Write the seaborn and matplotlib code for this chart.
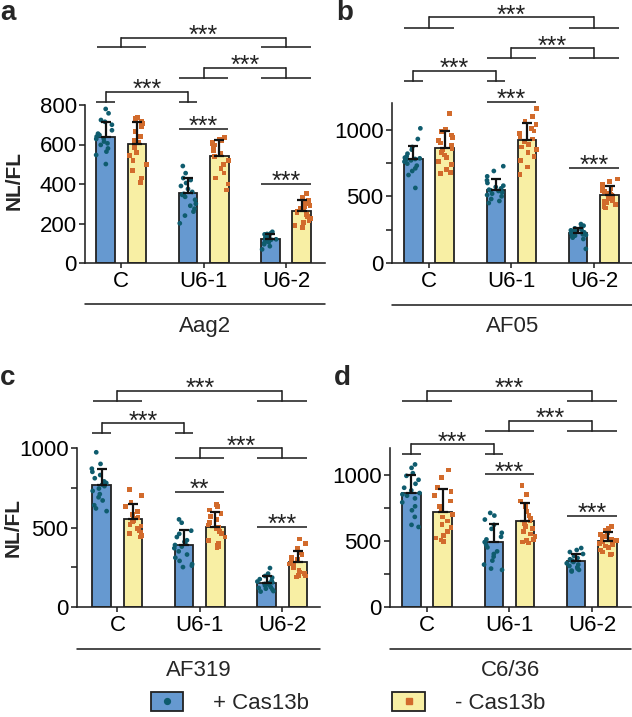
import numpy as np
import pandas as pd
import matplotlib
matplotlib.use("Agg")
import matplotlib.pyplot as plt
from matplotlib.patches import Patch
from matplotlib.lines import Line2D
from matplotlib.ticker import MultipleLocator
from matplotlib.transforms import blended_transform_factory
import seaborn as sns

sns.set_style("ticks")
plt.rcParams["font.family"] = ["Liberation Sans", "DejaVu Sans"]

# ---------------- data ----------------
categories = ["C", "U6-1", "U6-2"]
conditions = ["+ Cas13b", "- Cas13b"]
cell_lines = ["Aag2", "AF05", "AF319", "C6/36"]
panel_letters = ["a", "b", "c", "d"]

# bar means and SDs (per category C, U6-1, U6-2)
aag2_mean_plus = [636, 353, 120]
aag2_sd_plus = [80, 76, 28]
aag2_mean_minus = [601, 543, 265]
aag2_sd_minus = [111, 80, 54]

af05_mean_plus = [777, 550, 224]
af05_sd_plus = [100, 81, 38]
af05_mean_minus = [860, 922, 513]
af05_sd_minus = [130, 126, 62]

af319_mean_plus = [766, 392, 150]
af319_sd_plus = [105, 91, 46]
af319_mean_minus = [555, 504, 281]
af319_sd_minus = [91, 93, 73]

c636_mean_plus = [862, 490, 349]
c636_sd_plus = [138, 137, 53]
c636_mean_minus = [715, 652, 500]
c636_sd_minus = [172, 134, 63]

# individual points
aag2_c_plus = [780, 758, 724, 715, 700, 672, 655, 648, 640, 630, 628, 615, 606, 598, 580, 564, 547, 501]
aag2_c_minus = [738, 730, 715, 705, 700, 690, 665, 640, 620, 610, 585, 560, 545, 520, 500, 470, 430, 408]
aag2_u1_plus = [491, 455, 430, 420, 405, 390, 375, 360, 350, 345, 335, 320, 300, 290, 275, 260, 240, 201]
aag2_u1_minus = [635, 628, 620, 612, 605, 598, 590, 580, 570, 555, 540, 520, 500, 480, 455, 430, 400, 370]
aag2_u2_plus = [158, 150, 147, 145, 140, 135, 130, 125, 122, 120, 118, 115, 110, 105, 100, 95, 85, 69]
aag2_u2_minus = [353, 330, 315, 305, 300, 290, 285, 275, 270, 262, 255, 245, 235, 225, 215, 205, 190, 181]

af05_c_plus = [1010, 930, 870, 850, 820, 800, 790, 785, 780, 775, 770, 760, 745, 730, 710, 690, 660, 563]
af05_c_minus = [1123, 1000, 985, 960, 940, 920, 900, 880, 860, 850, 830, 810, 790, 760, 740, 700, 680, 669]
af05_u1_plus = [726, 690, 650, 620, 600, 580, 570, 560, 550, 545, 540, 530, 520, 510, 500, 480, 465, 450]
af05_u1_minus = [1161, 1100, 1060, 1040, 1010, 990, 970, 950, 930, 910, 890, 870, 850, 830, 800, 770, 720, 663]
af05_u2_plus = [292, 280, 270, 260, 250, 245, 240, 235, 230, 225, 220, 215, 210, 205, 200, 190, 180, 106]
af05_u2_minus = [631, 610, 590, 575, 560, 545, 535, 525, 515, 505, 495, 485, 470, 460, 450, 440, 425, 412]

af319_c_plus = [973, 900, 870, 850, 830, 810, 790, 780, 770, 760, 745, 730, 710, 690, 670, 640, 620, 603]
af319_c_minus = [741, 700, 660, 630, 600, 580, 565, 555, 545, 535, 520, 510, 495, 480, 470, 460, 450, 441]
af319_u1_plus = [551, 530, 480, 460, 440, 420, 410, 400, 390, 380, 370, 350, 330, 310, 290, 270, 260, 251]
af319_u1_minus = [646, 630, 610, 590, 570, 550, 530, 515, 500, 490, 475, 460, 440, 420, 400, 390, 380, 371]
af319_u2_plus = [245, 210, 195, 185, 175, 165, 160, 155, 150, 145, 140, 135, 125, 120, 115, 110, 100, 97]
af319_u2_minus = [428, 400, 370, 345, 330, 315, 300, 290, 280, 270, 260, 245, 230, 220, 210, 200, 195, 188]

c636_c_plus = [1076, 1050, 1010, 990, 960, 930, 900, 880, 860, 850, 840, 820, 790, 760, 730, 680, 620, 604]
c636_c_minus = [1033, 980, 900, 870, 840, 800, 760, 730, 700, 680, 650, 620, 600, 570, 540, 520, 505, 495]
c636_u1_plus = [710, 690, 660, 620, 590, 560, 530, 510, 490, 470, 450, 420, 400, 380, 350, 320, 290, 280]
c636_u1_minus = [917, 850, 800, 760, 720, 690, 670, 650, 630, 610, 590, 570, 550, 530, 510, 500, 490, 483]
c636_u2_plus = [445, 430, 415, 400, 385, 370, 360, 350, 345, 340, 330, 320, 310, 300, 290, 280, 275, 268]
c636_u2_minus = [609, 590, 575, 560, 545, 530, 520, 510, 500, 490, 480, 470, 460, 450, 430, 415, 400, 394]

# significance labels
sig_pair = [["***", "***"], ["***", "***"], ["**", "***"], ["***", "***"]]

# ---------------- styling ----------------
BAR_BLUE = "#6699D0"
BAR_YELLOW = "#F8EFA4"
DOT_BLUE = "#0F5C6E"
DOT_ORANGE = "#D26B2C"
INK = "#222222"
LW = 1.15
FS = 16

W, H = 632, 717
PX_PER_CAT = 82.4

panel_layout = [
    dict(left=85, bottom=263, height=158, xlim=(-0.44, 2.47), ylim=(0, 800), major=200, minor=None),
    dict(left=392, bottom=263, height=160, xlim=(-0.45, 2.47), ylim=(0, 1200), major=500, minor=250),
    dict(left=77, bottom=607, height=159, xlim=(-0.49, 2.46), ylim=(0, 1000), major=500, minor=250),
    dict(left=390, bottom=607, height=159, xlim=(-0.45, 2.48), ylim=(0, 1200), major=500, minor=250),
]
# bracket layout in axes-fraction heights: (cat_i, cat_j, mode, y_feet, y_top, label)
bracket_layout = [
    [(0, 2, "group", 1.367, 1.424, "***"), (1, 2, "group", 1.171, 1.234, "***"), (0, 1, "blue", 1.019, 1.082, "***")],
    [(0, 2, "group", 1.471, 1.536, "***"), (1, 2, "group", 1.279, 1.342, "***"), (0, 1, "blue", 1.1375, 1.200, "***")],
    [(0, 2, "group", 1.297, 1.358, "***"), (0, 1, "blue", 1.092, 1.155, "***"), (1, 2, "group", 0.935, 0.998, "***")],
    [(0, 2, "group", 1.297, 1.360, "***"), (1, 2, "group", 1.109, 1.172, "***"), (0, 1, "blue", 0.960, 1.023, "***")],
]
pair_layout = [[0.848, 0.500], [1.008, 0.594], [0.725, 0.503], [0.835, 0.572]]
ylabel_pos = [(-0.297, 0.525), None, (-0.263, 0.497), None]
letter_pos = [(0, 20), (336, 20), (0, 385), (334, 385)]

means = [
    (aag2_mean_plus, aag2_sd_plus, aag2_mean_minus, aag2_sd_minus),
    (af05_mean_plus, af05_sd_plus, af05_mean_minus, af05_sd_minus),
    (af319_mean_plus, af319_sd_plus, af319_mean_minus, af319_sd_minus),
    (c636_mean_plus, c636_sd_plus, c636_mean_minus, c636_sd_minus),
]
points = [
    [(aag2_c_plus, aag2_c_minus), (aag2_u1_plus, aag2_u1_minus), (aag2_u2_plus, aag2_u2_minus)],
    [(af05_c_plus, af05_c_minus), (af05_u1_plus, af05_u1_minus), (af05_u2_plus, af05_u2_minus)],
    [(af319_c_plus, af319_c_minus), (af319_u1_plus, af319_u1_minus), (af319_u2_plus, af319_u2_minus)],
    [(c636_c_plus, c636_c_minus), (c636_u1_plus, c636_u1_minus), (c636_u2_plus, c636_u2_minus)],
]

np.random.seed(3)
fig = plt.figure(figsize=(W / 100, H / 100), dpi=100)

GROUP_HALF = 0.30
BLUE_OFF = -0.19
BLUE_HALF = 0.112


def hline(ax, tr, x0, x1, y):
    ax.plot([x0, x1], [y, y], transform=tr, color=INK, lw=LW, clip_on=False,
            solid_capstyle="butt")


def vline(ax, tr, x, y0, y1):
    ax.plot([x, x], [y0, y1], transform=tr, color=INK, lw=LW, clip_on=False,
            solid_capstyle="projecting")


def stars(ax, tr, x, y, label):
    ax.annotate(label, xy=(x, y), xycoords=tr, xytext=(0, -3.8), textcoords="offset points",
                ha="center", va="baseline", fontsize=18, color=INK, annotation_clip=False)


for p in range(4):
    lay = panel_layout[p]
    wpx = (lay["xlim"][1] - lay["xlim"][0]) * PX_PER_CAT
    ax = fig.add_axes([lay["left"] / W, 1 - lay["bottom"] / H, wpx / W, lay["height"] / H])

    mp, sp, mm, sm = means[p]
    bar_df = pd.DataFrame({
        "cat": categories * 2,
        "cond": [conditions[0]] * 3 + [conditions[1]] * 3,
        "val": list(mp) + list(mm),
    })
    sns.barplot(data=bar_df, x="cat", y="val", hue="cond", order=categories, hue_order=conditions,
                palette={conditions[0]: BAR_BLUE, conditions[1]: BAR_YELLOW}, saturation=1,
                width=0.76, gap=0.41, errorbar=None, edgecolor=INK, linewidth=1.3,
                legend=False, ax=ax)

    # error bars (mean + SD, upper only)
    bars = sorted(ax.patches, key=lambda r: r.get_x())
    xs = [b.get_x() + b.get_width() / 2 for b in bars]
    hs = [b.get_height() for b in bars]
    sds = [v for pair in zip(sp, sm) for v in pair]
    ax.errorbar(xs, hs, yerr=[np.zeros(len(sds)), sds], fmt="none", ecolor="#111111",
                elinewidth=1.6, capsize=3.3, capthick=1.6, zorder=6)

    rows = []
    for ci, cat in enumerate(categories):
        for k, cond in enumerate(conditions):
            for v in points[p][ci][k]:
                rows.append((cat, cond, v))
    pts = pd.DataFrame(rows, columns=["cat", "cond", "val"])
    for cond, marker in [(conditions[0], "o"), (conditions[1], "s")]:
        sns.stripplot(data=pts[pts["cond"] == cond], x="cat", y="val", hue="cond",
                      order=categories, hue_order=conditions, dodge=True, jitter=0.22,
                      marker=marker, size=3.4, linewidth=0,
                      palette={conditions[0]: DOT_BLUE, conditions[1]: DOT_ORANGE},
                      legend=False, ax=ax, zorder=5)

    ax.set_xlim(*lay["xlim"])
    ax.set_ylim(*lay["ylim"])
    ax.set_yticks(np.arange(0, lay["ylim"][1] + 1, lay["major"]))
    if lay["minor"]:
        ax.yaxis.set_minor_locator(MultipleLocator(lay["minor"]))
    ax.set_xlabel("")
    ax.set_ylabel("")
    for s in ["top", "right"]:
        ax.spines[s].set_visible(False)
    for s in ["left", "bottom"]:
        ax.spines[s].set_linewidth(LW)
        ax.spines[s].set_color(INK)
    ax.tick_params(axis="both", which="both", direction="out", length=4.5, width=LW,
                   color=INK, labelsize=FS, labelcolor="black")
    ax.tick_params(axis="y", pad=1.5)
    ax.tick_params(axis="x", pad=2, length=3.5)

    if ylabel_pos[p]:
        ax.text(ylabel_pos[p][0], ylabel_pos[p][1], "NL/FL", transform=ax.transAxes,
                rotation=90, ha="center", va="center", fontsize=15, fontweight="bold")

    # group label below axis
    ax.plot([0, 1], [-0.262, -0.262], transform=ax.transAxes, color=INK, lw=LW, clip_on=False)
    ax.text(0.5, -0.40, cell_lines[p], transform=ax.transAxes, ha="center", va="center",
            fontsize=FS)

    tr = blended_transform_factory(ax.transData, ax.transAxes)
    # pairwise lines
    for ci, yl in zip([1, 2], pair_layout[p]):
        hline(ax, tr, ci - GROUP_HALF, ci + GROUP_HALF, yl)
        stars(ax, tr, ci, yl, sig_pair[p][ci - 1])
    # brackets
    for (i, j, mode, yf, yt, lab) in bracket_layout[p]:
        if mode == "group":
            xi, xj, half = i, j, GROUP_HALF
        else:
            xi, xj, half = i + BLUE_OFF, j + BLUE_OFF, BLUE_HALF
        hline(ax, tr, xi - half, xi + half, yf)
        hline(ax, tr, xj - half, xj + half, yf)
        vline(ax, tr, xi, yf, yt)
        vline(ax, tr, xj, yf, yt)
        hline(ax, tr, xi, xj, yt)
        stars(ax, tr, (xi + xj) / 2, yt, lab)

    lx, ly = letter_pos[p]
    fig.text(lx / W, 1 - ly / H, panel_letters[p], ha="left", va="baseline",
             fontsize=20, fontweight="bold")

# legend
h1 = (Patch(facecolor=BAR_BLUE, edgecolor=INK, linewidth=1.3),
      Line2D([], [], marker="o", ls="", color=DOT_BLUE, markersize=4.2))
h2 = (Patch(facecolor=BAR_YELLOW, edgecolor=INK, linewidth=1.3),
      Line2D([], [], marker="s", ls="", color=DOT_ORANGE, markersize=4.2))
fig.legend(handles=[h1, h2], labels=conditions, ncol=2, loc="center",
           bbox_to_anchor=(348 / W, 1 - 703 / H), frameon=False, fontsize=FS,
           handlelength=1.45, handleheight=0.9, handletextpad=1.35, columnspacing=3.75)

fig.savefig("out.png", dpi=100)
